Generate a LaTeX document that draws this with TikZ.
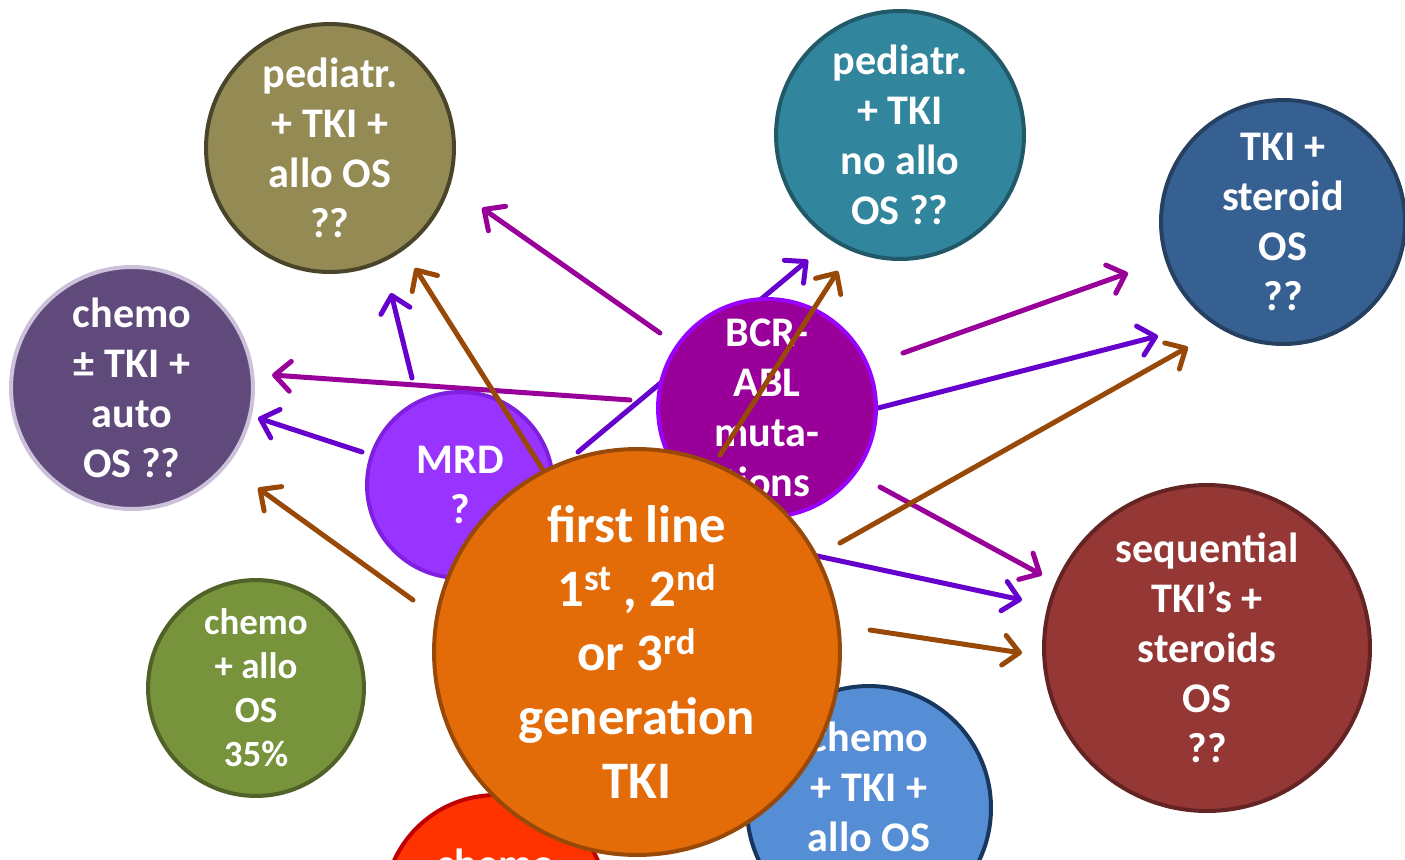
\documentclass[tikz,border=0pt]{standalone}
\usepackage{fontspec}
\setmainfont{Carlito}
\usetikzlibrary{arrows.meta}
\definecolor{cOlive}{HTML}{948A54}\definecolor{dOlive}{HTML}{4A452A}
\definecolor{cTeal}{HTML}{31859C}\definecolor{dTeal}{HTML}{215968}
\definecolor{cNavy}{HTML}{376092}\definecolor{dNavy}{HTML}{254061}
\definecolor{cPlum}{HTML}{604A7B}\definecolor{dPlum}{HTML}{CCC1DA}
\definecolor{cMrd}{HTML}{9933FF}\definecolor{dMrd}{HTML}{7F1FE0}
\definecolor{cBcr}{HTML}{990099}\definecolor{dBcr}{HTML}{9900FF}
\definecolor{cGreen}{HTML}{77933C}\definecolor{dGreen}{HTML}{4F6228}
\definecolor{cOrange}{HTML}{E36C09}\definecolor{dOrange}{HTML}{984807}
\definecolor{cBrick}{HTML}{953735}\definecolor{dBrick}{HTML}{632423}
\definecolor{cSky}{HTML}{558ED5}\definecolor{dSky}{HTML}{17375E}
\definecolor{cRed}{HTML}{FF3300}\definecolor{dRed}{HTML}{C00000}
\definecolor{aPurple}{HTML}{990099}
\definecolor{aViolet}{HTML}{6600CC}
\definecolor{aBrown}{HTML}{984807}
\tikzset{
  ball/.style={circle, inner sep=0pt, line width=0.08cm, text=white, align=center,
    font=\bfseries\fontsize{24}{28.5}\selectfont},
  lbl/.style={text=white, align=center, inner sep=0pt, font=\bfseries\fontsize{24}{28.5}\selectfont},
  arr/.style={line width=0.1cm, line cap=round, -{Straight Barb[length=9pt,width=17pt,line cap=round,line join=round]}},
}
\begin{document}
\begin{tikzpicture}[x=0.02cm,y=-0.02cm]
\useasboundingbox (0,0) rectangle (1405,859);
\clip (0,0) rectangle (1405,859);
% outer circles
\node[ball, fill=cOlive, draw=dOlive, minimum size=4.96cm] (pedallo) at (330,148) {pediatr.\\+ TKI +\\allo OS\\??};
\node[ball, fill=cTeal, draw=dTeal, minimum size=4.96cm] (pednoallo) at (900,135) {pediatr.\\+ TKI\\no allo\\OS ??};
\node[ball, fill=cNavy, draw=dNavy, minimum size=4.88cm] (tkister) at (1283,222) {TKI +\\steroid\\OS\\??};
\node[ball, fill=cPlum, draw=dPlum, minimum size=4.84cm] (chauto) at (132,388) {chemo\\± TKI +\\auto\\OS ??};
\node[ball, fill=cGreen, draw=dGreen, minimum size=4.32cm, font=\bfseries\fontsize{21}{25}\selectfont] (challo) at (256,688) {chemo\\+ allo\\OS\\35\%};
\node[ball, fill=cBrick, draw=dBrick, minimum size=6.52cm] (seq) at (1207,648) {sequential\\TKI’s +\\steroids\\OS\\??};
\node[ball, fill=cSky, draw=dSky, minimum size=4.88cm] (chtki) at (869,808) {};
\node[lbl] (chtkitext) at (869,787) {chemo\\+ TKI +\\allo OS};
\node[ball, fill=cRed, draw=dRed, minimum size=4.48cm] (redc) at (496,907) {};
\node[lbl] (redtext) at (496,864) {chemo};
% arrow end points
\coordinate (p1a) at (660,333); \coordinate (p1b) at (482,208);
\coordinate (p2a) at (630,400); \coordinate (p2b) at (272,375);
\coordinate (p3a) at (903,353); \coordinate (p3b) at (1128,273);
\coordinate (p4a) at (880,487); \coordinate (p4b) at (1042,575);
\coordinate (b1a) at (412,378); \coordinate (b1b) at (391,293);
\coordinate (b2a) at (362,452); \coordinate (b2b) at (258,418);
\coordinate (b3a) at (578,452); \coordinate (b3b) at (808,260);
\coordinate (b4a) at (878,408); \coordinate (b4b) at (1158,336);
\coordinate (b5a) at (780,548); \coordinate (b5b) at (1022,600);
\coordinate (r1a) at (548,478); \coordinate (r1b) at (415,268);
\coordinate (r2a) at (413,600); \coordinate (r2b) at (258,488);
\coordinate (r3a) at (720,455); \coordinate (r3b) at (838,271);
\coordinate (r4a) at (840,543); \coordinate (r4b) at (1188,347);
\coordinate (r5a) at (870,630); \coordinate (r5b) at (1022,653);
% purple and violet arrows
\draw[arr, draw=aPurple] (p1a) -- (p1b);
\draw[arr, draw=aPurple] (p2a) -- (p2b);
\draw[arr, draw=aPurple] (p3a) -- (p3b);
\draw[arr, draw=aPurple] (p4a) -- (p4b);
\draw[arr, draw=aViolet] (b1a) -- (b1b);
\draw[arr, draw=aViolet] (b2a) -- (b2b);
\draw[arr, draw=aViolet] (b3a) -- (b3b);
\draw[arr, draw=aViolet] (b4a) -- (b4b);
\draw[arr, draw=aViolet] (b5a) -- (b5b);
% middle circles
\node[ball, fill=cMrd, draw=dMrd, minimum size=3.72cm] (mrd) at (460,485) {MRD\\?};
\node[ball, fill=cBcr, draw=dBcr, minimum size=4.36cm] (bcr) at (767,408) {BCR-\\ABL\\muta-\\tions};
% brown arrows
\draw[arr, draw=aBrown] (r1a) -- (r1b);
\draw[arr, draw=aBrown] (r2a) -- (r2b);
\draw[arr, draw=aBrown] (r3a) -- (r3b);
\draw[arr, draw=aBrown] (r4a) -- (r4b);
\draw[arr, draw=aBrown] (r5a) -- (r5b);
% central circle
\node[ball, fill=cOrange, draw=dOrange, minimum size=8.12cm, font=\bfseries\fontsize{30}{36.4}\selectfont] (first) at (637,652)
  {first line\\1\textsuperscript{st} , 2\textsuperscript{nd}\\or 3\textsuperscript{rd}\\generation\\TKI};
\end{tikzpicture}
\end{document}
